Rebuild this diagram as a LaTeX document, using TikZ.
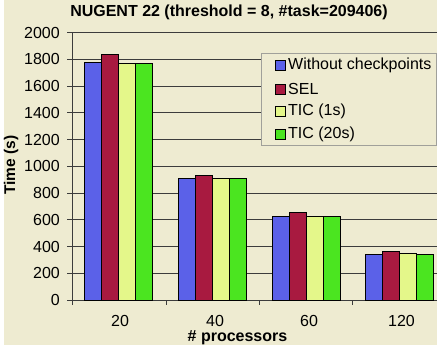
\documentclass[tikz,border=0pt]{standalone}
\usepackage{fontspec}
\setmainfont{Liberation Sans}
\definecolor{bgc}{HTML}{EEEBD1}
\definecolor{cblue}{HTML}{5B61E8}
\definecolor{cred}{HTML}{A81A40}
\definecolor{cyel}{HTML}{E4F78A}
\definecolor{cgreen}{HTML}{4BE520}
\definecolor{gridc}{HTML}{3C3C3C}
\definecolor{legc}{HTML}{A0A09A}
\tikzset{
  bar/.style={draw=black, line width=0.9pt},
  gridline/.style={draw=gridc, line width=0.9pt},
  ylab/.style={anchor=east, font=\fontsize{16}{17}\selectfont, inner sep=0pt},
  xlab/.style={anchor=center, font=\fontsize{16}{17}\selectfont, inner sep=0pt},
  legtext/.style={anchor=west, font=\fontsize{16}{17}\selectfont, inner sep=0pt},
  legsq/.style={draw=black, line width=0.8pt, minimum size=10pt, inner sep=0pt},
}
\begin{document}
\begin{tikzpicture}[x=1pt,y=-1pt]
\useasboundingbox (0,0) rectangle (443,350);
\fill[white] (0,0) rectangle (443,350);
\fill[bgc] (4,0) rectangle (436.5,345);
% gridlines
\foreach \v in {200,400,...,2000}{
  \draw[gridline] (72,{300-0.13375*\v}) -- (436.5,{300-0.13375*\v});
}
% y axis ticks and labels
\foreach \v [count=\i] in {0,200,400,600,800,1000,1200,1400,1600,1800,2000}{
  \draw[gridline] (67,{300-0.13375*\v}) -- (72,{300-0.13375*\v});
  \node[ylab] (yl\i) at (60,{300-0.13375*\v}) {\v};
}
\draw[gridline] (72,{300-0.13375*2000}) -- (72,300) -- (436.5,300);
\foreach \x in {72,166.5,259.5,352.5}{
  \draw[gridline] (\x,300) -- (\x,305);
}
% bars
\foreach \g/\a/\b/\c/\d in {0/1778/1838/1770/1772, 1/912/932/912/912, 2/626/656/624/624, 3/344/360/346/344}{
  \pgfmathsetmacro{\xs}{84.5+93.8*\g}
  \filldraw[bar, fill=cblue] (\xs,300) rectangle ({\xs+17},{300-0.13375*\a});
  \filldraw[bar, fill=cred] ({\xs+17},300) rectangle ({\xs+34},{300-0.13375*\b});
  \filldraw[bar, fill=cyel] ({\xs+34},300) rectangle ({\xs+51},{300-0.13375*\c});
  \filldraw[bar, fill=cgreen] ({\xs+51},300) rectangle ({\xs+68},{300-0.13375*\d});
}
% x labels
\node[xlab] (x20) at (120,321) {20};
\node[xlab] (x40) at (215,321) {40};
\node[xlab] (x60) at (309,321) {60};
\node[xlab] (x120) at (401.5,321) {120};
\node[xlab, font=\fontsize{16}{17}\selectfont\bfseries] (xt) at (237.5,338) {\# processors};
\node[xlab, font=\fontsize{15.5}{16}\selectfont\bfseries, rotate=90] (yt) at (11,165) {Time (s)};
\node[xlab, font=\fontsize{16}{17}\selectfont\bfseries] (title) at (229,12) {NUGENT 22 (threshold = 8, \#task=209406)};
% legend
\filldraw[fill=bgc, draw=legc, line width=0.8pt] (261.5,53.5) rectangle (436.5,145);
\node[legsq, fill=cblue] (s1) at (280,65.5) {};
\node[legsq, fill=cred] (s2) at (280,89) {};
\node[legsq, fill=cyel] (s3) at (280,111.5) {};
\node[legsq, fill=cgreen] (s4) at (280,134) {};
\node[legtext] (l1) at (288,65.5) {Without checkpoints};
\node[legtext] (l2) at (288,89) {SEL};
\node[legtext] (l3) at (288,111.5) {TIC (1s)};
\node[legtext] (l4) at (288,134) {TIC (20s)};
\end{tikzpicture}
\end{document}
